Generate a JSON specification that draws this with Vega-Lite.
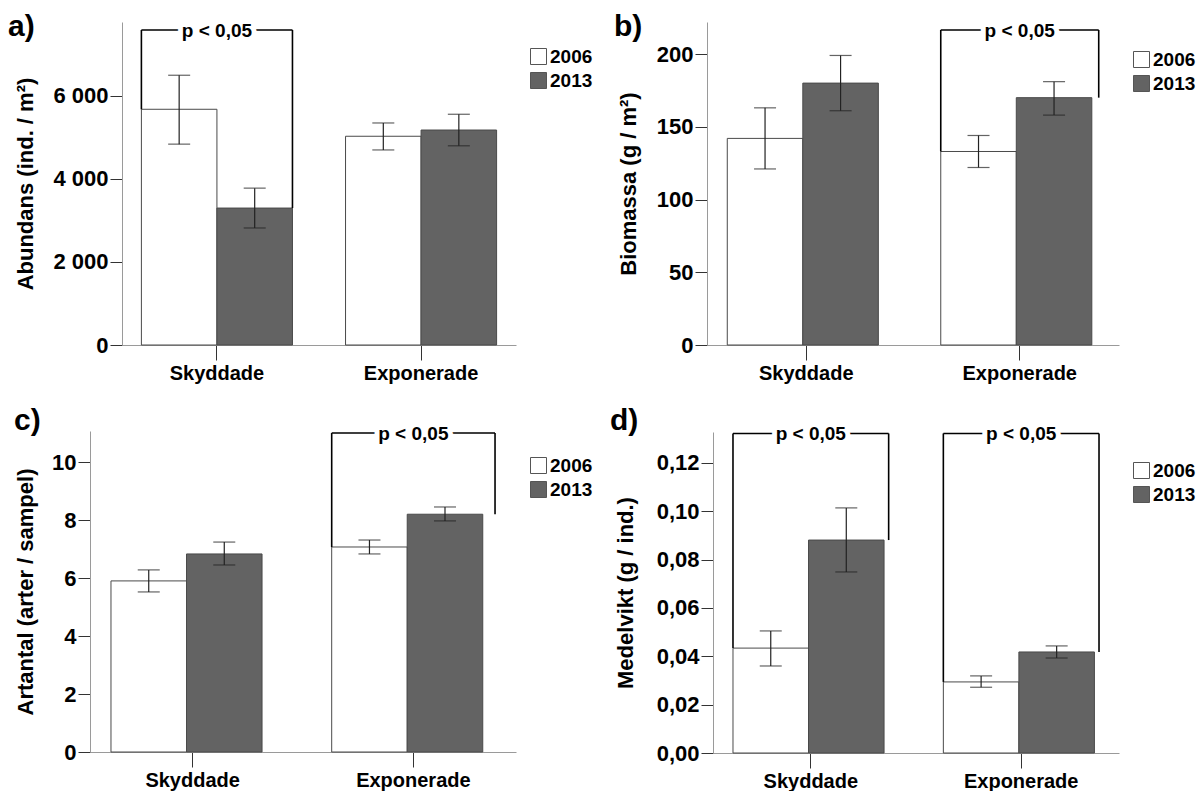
{
  "$schema": "https://vega.github.io/schema/vega-lite/v6.json",
  "background": "white",
  "padding": {"left": 8, "top": 12, "right": 0, "bottom": 0},
  "config": {
    "font": "Liberation Sans",
    "view": {"stroke": null},
    "axis": {"domainColor": "#9a9a9a", "domainWidth": 1, "tickColor": "#333333", "labelColor": "black", "labelFontWeight": "bold", "titleFontWeight": "bold", "titleColor": "black", "grid": false, "labelFont": "Liberation Sans", "titleFont": "Liberation Sans"},
    "axisY": {"labelFontSize": 22, "tickSize": 12, "labelPadding": 2, "titleFontSize": 22, "titleBaseline": "alphabetic"},
    "axisX": {"labelFontSize": 20, "tickSize": 15, "labelPadding": 3, "labelAngle": 0},
    "legend": {"symbolType": "square", "symbolSize": 256, "labelFontSize": 19, "labelFontWeight": "bold", "labelColor": "black", "labelFont": "Liberation Sans", "symbolStrokeColor": "#555555", "symbolStrokeWidth": 1, "labelOffset": 2, "rowPadding": 3, "padding": 0},
    "title": {"fontSize": 30, "fontWeight": "bold", "anchor": "start", "frame": "bounds", "color": "black", "font": "Liberation Sans"}
  },
  "datasets": {
    "a": [
      {"site": "Skyddade", "year": "2006", "mean": 5680, "lo": 4840, "hi": 6500},
      {"site": "Skyddade", "year": "2013", "mean": 3300, "lo": 2820, "hi": 3780},
      {"site": "Exponerade", "year": "2006", "mean": 5030, "lo": 4700, "hi": 5350},
      {"site": "Exponerade", "year": "2013", "mean": 5180, "lo": 4800, "hi": 5560}
    ],
    "a_br": [{"site": "Skyddade", "left": 5680, "right": 3300, "top": 7590, "label": "p < 0,05"}],
    "b": [
      {"site": "Skyddade", "year": "2006", "mean": 142, "lo": 121, "hi": 163},
      {"site": "Skyddade", "year": "2013", "mean": 180, "lo": 161, "hi": 199},
      {"site": "Exponerade", "year": "2006", "mean": 133, "lo": 122, "hi": 144},
      {"site": "Exponerade", "year": "2013", "mean": 170, "lo": 158, "hi": 181}
    ],
    "b_br": [{"site": "Exponerade", "left": 133, "right": 170, "top": 216.5, "label": "p < 0,05"}],
    "c": [
      {"site": "Skyddade", "year": "2006", "mean": 5.9, "lo": 5.52, "hi": 6.28},
      {"site": "Skyddade", "year": "2013", "mean": 6.83, "lo": 6.45, "hi": 7.24},
      {"site": "Exponerade", "year": "2006", "mean": 7.07, "lo": 6.83, "hi": 7.31},
      {"site": "Exponerade", "year": "2013", "mean": 8.2, "lo": 7.97, "hi": 8.45}
    ],
    "c_br": [{"site": "Exponerade", "left": 7.07, "right": 8.2, "top": 11.0, "label": "p < 0,05"}],
    "d": [
      {"site": "Skyddade", "year": "2006", "mean": 0.0434, "lo": 0.036, "hi": 0.0505},
      {"site": "Skyddade", "year": "2013", "mean": 0.0881, "lo": 0.0749, "hi": 0.1014},
      {"site": "Exponerade", "year": "2006", "mean": 0.0294, "lo": 0.0272, "hi": 0.0319},
      {"site": "Exponerade", "year": "2013", "mean": 0.0418, "lo": 0.0393, "hi": 0.0443}
    ],
    "d_br": [
      {"site": "Skyddade", "left": 0.0434, "right": 0.0881, "top": 0.1322, "label": "p < 0,05"},
      {"site": "Exponerade", "left": 0.0294, "right": 0.0418, "top": 0.1322, "label": "p < 0,05"}
    ]
  },
  "hconcat": [
    {
      "concat": [
        {
          "width": 426, "height": 323,
          "title": {"text": "a)", "offset": -20, "dx": -6},
          "layer": [
            {"data": {"name": "a"}, "mark": {"type": "bar", "stroke": "#4a4a4a", "strokeWidth": 1},
              "encoding": {
                "x": {"field": "site", "type": "nominal", "title": null, "scale": {"domain": ["Skyddade", "Exponerade"], "range": [32, 426], "paddingInner": 0.26, "paddingOuter": 0.095}},
                "xOffset": {"field": "year", "type": "nominal", "scale": {"domain": ["2006", "2013"], "paddingInner": 0, "paddingOuter": 0}},
                "y": {"field": "mean", "type": "quantitative", "scale": {"domain": [0, 7783], "nice": false}, "axis": {"title": "Abundans (ind. / m²)", "offset": -32, "titleX": -90, "values": [0, 2000, 4000, 6000], "labelExpr": "replace(format(datum.value, ','), ',', ' ')"}},
                "fill": {"field": "year", "type": "nominal", "scale": {"domain": ["2006", "2013"], "range": ["#ffffff", "#636363"]}, "legend": {"orient": "none", "legendX": 439, "legendY": 25, "title": null}}
              }},
            {"data": {"name": "a"}, "mark": {"type": "rule", "color": "#222222", "strokeWidth": 1.2},
              "encoding": {"x": {"field": "site", "type": "nominal"}, "xOffset": {"field": "year", "type": "nominal"}, "y": {"field": "lo", "type": "quantitative"}, "y2": {"field": "hi"}}},
            {"data": {"name": "a"}, "mark": {"type": "tick", "orient": "horizontal", "size": 22, "thickness": 1.2, "color": "#222222"},
              "encoding": {"x": {"field": "site", "type": "nominal"}, "xOffset": {"field": "year", "type": "nominal"}, "y": {"field": "lo", "type": "quantitative"}}},
            {"data": {"name": "a"}, "mark": {"type": "tick", "orient": "horizontal", "size": 22, "thickness": 1.2, "color": "#222222"},
              "encoding": {"x": {"field": "site", "type": "nominal"}, "xOffset": {"field": "year", "type": "nominal"}, "y": {"field": "hi", "type": "quantitative"}}},
            {"data": {"name": "a_br"}, "mark": {"type": "rule", "color": "black", "strokeWidth": 1.6},
              "encoding": {"x": {"field": "site", "type": "nominal", "bandPosition": 0}, "y": {"field": "left", "type": "quantitative"}, "y2": {"field": "top"}}},
            {"data": {"name": "a_br"}, "mark": {"type": "rule", "color": "black", "strokeWidth": 1.6},
              "encoding": {"x": {"field": "site", "type": "nominal", "bandPosition": 1}, "y": {"field": "right", "type": "quantitative"}, "y2": {"field": "top"}}},
            {"data": {"name": "a_br"}, "mark": {"type": "bar", "filled": false, "stroke": "black", "strokeWidth": 1.6},
              "encoding": {"x": {"field": "site", "type": "nominal"}, "y": {"field": "top", "type": "quantitative"}, "y2": {"field": "top"}}},
            {"data": {"name": "a_br"}, "mark": {"type": "text", "fontSize": 19, "fontWeight": "bold", "fill": "white", "stroke": "white", "strokeWidth": 10, "strokeJoin": "round", "baseline": "middle", "dy": 1},
              "encoding": {"x": {"field": "site", "type": "nominal"}, "y": {"field": "top", "type": "quantitative"}, "text": {"field": "label"}}},
            {"data": {"name": "a_br"}, "mark": {"type": "text", "fontSize": 19, "fontWeight": "bold", "color": "black", "baseline": "middle", "dy": 1},
              "encoding": {"x": {"field": "site", "type": "nominal"}, "y": {"field": "top", "type": "quantitative"}, "text": {"field": "label"}}}
          ]
        },
        {
          "width": 426, "height": 321,
          "title": {"text": "c)", "offset": -11, "dx": 0},
          "layer": [
            {"data": {"name": "c"}, "mark": {"type": "bar", "stroke": "#4a4a4a", "strokeWidth": 1},
              "encoding": {
                "x": {"field": "site", "type": "nominal", "title": null, "scale": {"domain": ["Skyddade", "Exponerade"], "paddingInner": 0.26, "paddingOuter": 0.095}},
                "xOffset": {"field": "year", "type": "nominal", "scale": {"domain": ["2006", "2013"], "paddingInner": 0, "paddingOuter": 0}},
                "y": {"field": "mean", "type": "quantitative", "scale": {"domain": [0, 11.07], "nice": false}, "axis": {"title": "Artantal (arter / sampel)", "titleX": -58, "values": [0, 2, 4, 6, 8, 10]}},
                "fill": {"field": "year", "type": "nominal", "scale": {"domain": ["2006", "2013"], "range": ["#ffffff", "#636363"]}, "legend": {"orient": "none", "legendX": 439, "legendY": 25, "title": null}}
              }},
            {"data": {"name": "c"}, "mark": {"type": "rule", "color": "#222222", "strokeWidth": 1.2},
              "encoding": {"x": {"field": "site", "type": "nominal"}, "xOffset": {"field": "year", "type": "nominal"}, "y": {"field": "lo", "type": "quantitative"}, "y2": {"field": "hi"}}},
            {"data": {"name": "c"}, "mark": {"type": "tick", "orient": "horizontal", "size": 22, "thickness": 1.2, "color": "#222222"},
              "encoding": {"x": {"field": "site", "type": "nominal"}, "xOffset": {"field": "year", "type": "nominal"}, "y": {"field": "lo", "type": "quantitative"}}},
            {"data": {"name": "c"}, "mark": {"type": "tick", "orient": "horizontal", "size": 22, "thickness": 1.2, "color": "#222222"},
              "encoding": {"x": {"field": "site", "type": "nominal"}, "xOffset": {"field": "year", "type": "nominal"}, "y": {"field": "hi", "type": "quantitative"}}},
            {"data": {"name": "c_br"}, "mark": {"type": "rule", "color": "black", "strokeWidth": 1.6},
              "encoding": {"x": {"field": "site", "type": "nominal", "bandPosition": 0}, "y": {"field": "left", "type": "quantitative"}, "y2": {"field": "top"}}},
            {"data": {"name": "c_br"}, "mark": {"type": "rule", "color": "black", "strokeWidth": 1.6},
              "encoding": {"x": {"field": "site", "type": "nominal", "bandPosition": 1}, "y": {"field": "right", "type": "quantitative"}, "y2": {"field": "top"}}},
            {"data": {"name": "c_br"}, "mark": {"type": "bar", "filled": false, "stroke": "black", "strokeWidth": 1.6},
              "encoding": {"x": {"field": "site", "type": "nominal"}, "y": {"field": "top", "type": "quantitative"}, "y2": {"field": "top"}}},
            {"data": {"name": "c_br"}, "mark": {"type": "text", "fontSize": 19, "fontWeight": "bold", "fill": "white", "stroke": "white", "strokeWidth": 10, "strokeJoin": "round", "baseline": "middle", "dy": 1},
              "encoding": {"x": {"field": "site", "type": "nominal"}, "y": {"field": "top", "type": "quantitative"}, "text": {"field": "label"}}},
            {"data": {"name": "c_br"}, "mark": {"type": "text", "fontSize": 19, "fontWeight": "bold", "color": "black", "baseline": "middle", "dy": 1},
              "encoding": {"x": {"field": "site", "type": "nominal"}, "y": {"field": "top", "type": "quantitative"}, "text": {"field": "label"}}}
          ]
        }
      ],
      "columns": 1,
      "align": "none",
      "spacing": 23,
      "resolve": {"scale": {"fill": "independent"}, "legend": {"fill": "independent"}}
    },
    {
      "concat": [
        {
          "width": 412, "height": 323,
          "title": {"text": "b)", "offset": -20, "dx": -3},
          "layer": [
            {"data": {"name": "b"}, "mark": {"type": "bar", "stroke": "#4a4a4a", "strokeWidth": 1},
              "encoding": {
                "x": {"field": "site", "type": "nominal", "title": null, "scale": {"domain": ["Skyddade", "Exponerade"], "paddingInner": 0.26, "paddingOuter": 0.095}},
                "xOffset": {"field": "year", "type": "nominal", "scale": {"domain": ["2006", "2013"], "paddingInner": 0, "paddingOuter": 0}},
                "y": {"field": "mean", "type": "quantitative", "scale": {"domain": [0, 222], "nice": false}, "axis": {"title": "Biomassa (g / m²)", "titleX": -72, "values": [0, 50, 100, 150, 200]}},
                "fill": {"field": "year", "type": "nominal", "scale": {"domain": ["2006", "2013"], "range": ["#ffffff", "#636363"]}, "legend": {"orient": "none", "legendX": 425, "legendY": 28, "title": null}}
              }},
            {"data": {"name": "b"}, "mark": {"type": "rule", "color": "#222222", "strokeWidth": 1.2},
              "encoding": {"x": {"field": "site", "type": "nominal"}, "xOffset": {"field": "year", "type": "nominal"}, "y": {"field": "lo", "type": "quantitative"}, "y2": {"field": "hi"}}},
            {"data": {"name": "b"}, "mark": {"type": "tick", "orient": "horizontal", "size": 22, "thickness": 1.2, "color": "#222222"},
              "encoding": {"x": {"field": "site", "type": "nominal"}, "xOffset": {"field": "year", "type": "nominal"}, "y": {"field": "lo", "type": "quantitative"}}},
            {"data": {"name": "b"}, "mark": {"type": "tick", "orient": "horizontal", "size": 22, "thickness": 1.2, "color": "#222222"},
              "encoding": {"x": {"field": "site", "type": "nominal"}, "xOffset": {"field": "year", "type": "nominal"}, "y": {"field": "hi", "type": "quantitative"}}},
            {"data": {"name": "b_br"}, "mark": {"type": "rule", "color": "black", "strokeWidth": 1.6},
              "encoding": {"x": {"field": "site", "type": "nominal", "bandPosition": 0}, "y": {"field": "left", "type": "quantitative"}, "y2": {"field": "top"}}},
            {"data": {"name": "b_br"}, "mark": {"type": "rule", "color": "black", "strokeWidth": 1.6},
              "encoding": {"x": {"field": "site", "type": "nominal", "bandPosition": 1}, "y": {"field": "right", "type": "quantitative"}, "y2": {"field": "top"}}},
            {"data": {"name": "b_br"}, "mark": {"type": "bar", "filled": false, "stroke": "black", "strokeWidth": 1.6},
              "encoding": {"x": {"field": "site", "type": "nominal"}, "y": {"field": "top", "type": "quantitative"}, "y2": {"field": "top"}}},
            {"data": {"name": "b_br"}, "mark": {"type": "text", "fontSize": 19, "fontWeight": "bold", "fill": "white", "stroke": "white", "strokeWidth": 10, "strokeJoin": "round", "baseline": "middle", "dy": 1},
              "encoding": {"x": {"field": "site", "type": "nominal"}, "y": {"field": "top", "type": "quantitative"}, "text": {"field": "label"}}},
            {"data": {"name": "b_br"}, "mark": {"type": "text", "fontSize": 19, "fontWeight": "bold", "color": "black", "baseline": "middle", "dy": 1},
              "encoding": {"x": {"field": "site", "type": "nominal"}, "y": {"field": "top", "type": "quantitative"}, "text": {"field": "label"}}}
          ]
        },
        {
          "width": 412, "height": 321,
          "title": {"text": "d)", "offset": -11, "dx": -4},
          "layer": [
            {"data": {"name": "d"}, "mark": {"type": "bar", "stroke": "#4a4a4a", "strokeWidth": 1},
              "encoding": {
                "x": {"field": "site", "type": "nominal", "title": null, "scale": {"domain": ["Skyddade", "Exponerade"], "range": [6, 412], "paddingInner": 0.26, "paddingOuter": 0.095}},
                "xOffset": {"field": "year", "type": "nominal", "scale": {"domain": ["2006", "2013"], "paddingInner": 0, "paddingOuter": 0}},
                "y": {"field": "mean", "type": "quantitative", "scale": {"domain": [0, 0.1328], "nice": false}, "axis": {"title": "Medelvikt (g / ind.)", "offset": -6, "titleX": -81, "values": [0, 0.02, 0.04, 0.06, 0.08, 0.1, 0.12], "labelExpr": "replace(format(datum.value, '.2f'), '.', ',')"}},
                "fill": {"field": "year", "type": "nominal", "scale": {"domain": ["2006", "2013"], "range": ["#ffffff", "#636363"]}, "legend": {"orient": "none", "legendX": 425, "legendY": 29, "title": null}}
              }},
            {"data": {"name": "d"}, "mark": {"type": "rule", "color": "#222222", "strokeWidth": 1.2},
              "encoding": {"x": {"field": "site", "type": "nominal"}, "xOffset": {"field": "year", "type": "nominal"}, "y": {"field": "lo", "type": "quantitative"}, "y2": {"field": "hi"}}},
            {"data": {"name": "d"}, "mark": {"type": "tick", "orient": "horizontal", "size": 22, "thickness": 1.2, "color": "#222222"},
              "encoding": {"x": {"field": "site", "type": "nominal"}, "xOffset": {"field": "year", "type": "nominal"}, "y": {"field": "lo", "type": "quantitative"}}},
            {"data": {"name": "d"}, "mark": {"type": "tick", "orient": "horizontal", "size": 22, "thickness": 1.2, "color": "#222222"},
              "encoding": {"x": {"field": "site", "type": "nominal"}, "xOffset": {"field": "year", "type": "nominal"}, "y": {"field": "hi", "type": "quantitative"}}},
            {"data": {"name": "d_br"}, "mark": {"type": "rule", "color": "black", "strokeWidth": 1.6},
              "encoding": {"x": {"field": "site", "type": "nominal", "bandPosition": 0}, "y": {"field": "left", "type": "quantitative"}, "y2": {"field": "top"}}},
            {"data": {"name": "d_br"}, "mark": {"type": "rule", "color": "black", "strokeWidth": 1.6},
              "encoding": {"x": {"field": "site", "type": "nominal", "bandPosition": 1}, "y": {"field": "right", "type": "quantitative"}, "y2": {"field": "top"}}},
            {"data": {"name": "d_br"}, "mark": {"type": "bar", "filled": false, "stroke": "black", "strokeWidth": 1.6},
              "encoding": {"x": {"field": "site", "type": "nominal"}, "y": {"field": "top", "type": "quantitative"}, "y2": {"field": "top"}}},
            {"data": {"name": "d_br"}, "mark": {"type": "text", "fontSize": 19, "fontWeight": "bold", "fill": "white", "stroke": "white", "strokeWidth": 10, "strokeJoin": "round", "baseline": "middle", "dy": 1},
              "encoding": {"x": {"field": "site", "type": "nominal"}, "y": {"field": "top", "type": "quantitative"}, "text": {"field": "label"}}},
            {"data": {"name": "d_br"}, "mark": {"type": "text", "fontSize": 19, "fontWeight": "bold", "color": "black", "baseline": "middle", "dy": 1},
              "encoding": {"x": {"field": "site", "type": "nominal"}, "y": {"field": "top", "type": "quantitative"}, "text": {"field": "label"}}}
          ]
        }
      ],
      "columns": 1,
      "align": "none",
      "spacing": 23,
      "resolve": {"scale": {"fill": "independent"}, "legend": {"fill": "independent"}}
    }
  ],
  "spacing": 17,
  "resolve": {"scale": {"fill": "independent"}, "legend": {"fill": "independent"}}
}
